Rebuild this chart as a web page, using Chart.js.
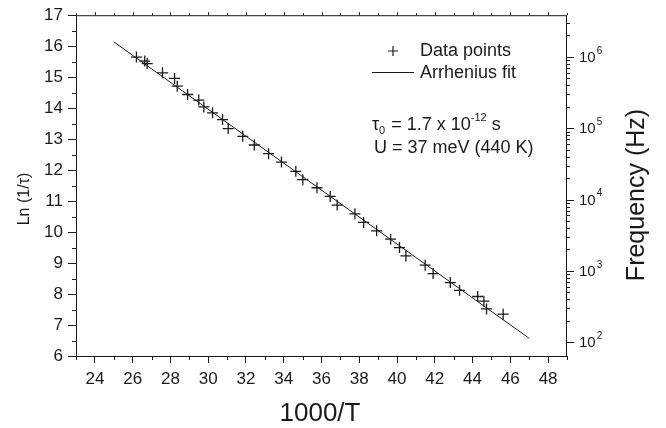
<!DOCTYPE html>
<html>
<head>
<meta charset="utf-8">
<script src="https://cdn.jsdelivr.net/npm/chart.js@4/dist/chart.umd.min.js"></script>
<style>
  html, body { margin: 0; padding: 0; background: #fff; }
  #wrap { width: 666px; height: 428px; }
</style>
</head>
<body>
<div id="wrap"><canvas id="chart" width="666" height="428"></canvas></div>
<script>
// values
const invT = [26.20, 26.64, 26.77, 27.58, 28.22, 28.36, 28.91, 29.50, 29.77, 30.23,
  30.76, 31.06, 31.83, 32.44, 33.20, 33.88, 34.64, 35.01, 35.76, 36.46,
  36.83, 37.77, 38.23, 38.92, 39.66, 40.13, 40.47, 41.49, 41.91, 42.82,
  43.31, 44.27, 44.60, 44.74, 45.62];
const lnRate = [15.65, 15.52, 15.44, 15.14, 14.96, 14.71, 14.44, 14.26, 14.04, 13.85,
  13.63, 13.34, 13.09, 12.81, 12.53, 12.26, 11.96, 11.69, 11.43, 11.15,
  10.87, 10.59, 10.31, 10.04, 9.77, 9.50, 9.23, 8.93, 8.66, 8.37,
  8.12, 7.92, 7.77, 7.52, 7.35];
const fitX = [25, 47];
const fitY = [16.14, 6.57];
const xTicks = [24, 26, 28, 30, 32, 34, 36, 38, 40, 42, 44, 46, 48];
const yTicks = [6, 7, 8, 9, 10, 11, 12, 13, 14, 15, 16, 17];
const freqDecades = [2, 3, 4, 5, 6];

const FONT = "'Liberation Sans', Arial, Helvetica, sans-serif";
const INK = "#1a1a1a";

// ln(1/tau) = ln(2*pi*f)
const lnOfFreq = (f) => Math.log(2 * Math.PI * f);

const points = invT.map((x, i) => ({ x: x, y: lnRate[i] }));
const fitLine = fitX.map((x, i) => ({ x: x, y: fitY[i] }));

// extra axis marks, titles and the annotation block
const decorPlugin = {
  id: "decor",
  afterDraw(chart) {
    const { ctx, chartArea: a, scales } = chart;
    const xs = scales.x, ys = scales.y;
    ctx.save();
    ctx.strokeStyle = INK;
    ctx.fillStyle = INK;
    ctx.lineWidth = 1;

    // frame
    ctx.strokeRect(a.left + 0.5, a.top + 0.5, a.right - a.left - 1, a.bottom - a.top);

    ctx.beginPath();
    // minor ticks left
    for (let v = 6.5; v < 17; v += 1) {
      const y = Math.round(ys.getPixelForValue(v)) + 0.5;
      ctx.moveTo(a.left, y); ctx.lineTo(a.left - 4, y);
    }
    // minor ticks bottom, little ticks on top
    for (let v = 23; v <= 49; v += 1) {
      const x = Math.round(xs.getPixelForValue(v)) + 0.5;
      if (v % 2 === 1) { ctx.moveTo(x, a.bottom); ctx.lineTo(x, a.bottom + 4); }
      ctx.moveTo(x, a.top); ctx.lineTo(x, a.top - (v % 2 === 0 ? 3 : 2));
    }
    // log ticks on the right
    freqDecades.forEach((n) => {
      for (let k = 1; k <= 9; k++) {
        const v = lnOfFreq(k * Math.pow(10, n));
        if (v < 6 || v > 17) continue;
        const y = Math.round(ys.getPixelForValue(v)) + 0.5;
        ctx.moveTo(a.right, y); ctx.lineTo(a.right + (k === 1 ? 7 : 3), y);
      }
    });
    ctx.stroke();

    // right tick labels 10^n
    freqDecades.forEach((n) => {
      const y = ys.getPixelForValue(lnOfFreq(Math.pow(10, n)));
      ctx.font = "15px " + FONT;
      ctx.textAlign = "left";
      ctx.textBaseline = "middle";
      ctx.fillText("10", a.right + 12, y + 1);
      const w = ctx.measureText("10").width;
      ctx.font = "10px " + FONT;
      ctx.fillText(String(n), a.right + 13 + w, y - 6);
    });

    // axis titles
    ctx.textAlign = "center";
    ctx.textBaseline = "middle";
    ctx.font = "26px " + FONT;
    ctx.fillText("1000/T", 320, 414);

    ctx.save();
    ctx.translate(637, 195);
    ctx.rotate(-Math.PI / 2);
    ctx.font = "25px " + FONT;
    ctx.fillText("Frequency (Hz)", 0, 0);
    ctx.restore();

    ctx.save();
    ctx.translate(25, 199);
    ctx.rotate(-Math.PI / 2);
    ctx.font = "16px " + FONT;
    ctx.fillText("Ln (1/\u03C4)", 0, 0);
    ctx.restore();

    // legend
    ctx.lineWidth = 1.2;
    ctx.beginPath();
    ctx.moveTo(388, 51); ctx.lineTo(398, 51);
    ctx.moveTo(393, 46); ctx.lineTo(393, 56);
    ctx.stroke();
    ctx.lineWidth = 1;
    ctx.beginPath();
    ctx.moveTo(372, 72.5); ctx.lineTo(414, 72.5);
    ctx.stroke();

    ctx.textAlign = "left";
    ctx.font = "18px " + FONT;
    ctx.fillText("Data points", 420, 51);
    ctx.fillText("Arrhenius fit", 420, 73);

    // tau_0 = 1.7 x 10^-12 s
    let x = 372;
    const yT = 125;
    ctx.font = "18px " + FONT;
    ctx.fillText("\u03C4", x, yT);
    x += ctx.measureText("\u03C4").width;
    ctx.font = "11px " + FONT;
    ctx.fillText("0", x, yT + 6);
    x += ctx.measureText("0").width + 1;
    ctx.font = "18px " + FONT;
    ctx.fillText(" = 1.7 x 10", x, yT);
    x += ctx.measureText(" = 1.7 x 10").width;
    ctx.font = "11px " + FONT;
    ctx.fillText("-12", x, yT - 7);
    x += ctx.measureText("-12").width;
    ctx.font = "18px " + FONT;
    ctx.fillText(" s", x, yT);

    ctx.fillText("U = 37 meV (440 K)", 374, 148);
    ctx.restore();
  },
};

new Chart(document.getElementById("chart"), {
  type: "scatter",
  data: {
    datasets: [
      {
        label: "Data points",
        data: points,
        pointStyle: "cross",
        pointRadius: 5.5,
        pointBorderWidth: 1.3,
        borderColor: INK,
        backgroundColor: INK,
        showLine: false,
      },
      {
        label: "Arrhenius fit",
        data: fitLine,
        showLine: true,
        pointRadius: 0,
        borderColor: INK,
        borderWidth: 1,
      },
    ],
  },
  options: {
    responsive: false,
    animation: false,
    layout: { padding: { top: 15, left: 0, right: 0, bottom: 0 } },
    plugins: { legend: { display: false }, tooltip: { enabled: false } },
    scales: {
      x: {
        type: "linear",
        min: 23,
        max: 49,
        afterBuildTicks: (s) => { s.ticks = xTicks.map((v) => ({ value: v })); },
        afterFit: (s) => { s.height = 72; },
        grid: { drawOnChartArea: false, tickLength: 7, tickColor: INK, tickWidth: 1 },
        border: { display: false },
        ticks: { color: INK, font: { family: FONT, size: 17 }, padding: 6, maxRotation: 0 },
      },
      y: {
        type: "linear",
        position: "left",
        min: 6,
        max: 17,
        afterBuildTicks: (s) => { s.ticks = yTicks.map((v) => ({ value: v })); },
        afterFit: (s) => { s.width = 76; },
        grid: { drawOnChartArea: false, tickLength: 8, tickColor: INK, tickWidth: 1 },
        border: { display: false },
        ticks: { color: INK, font: { family: FONT, size: 17 }, padding: 5 },
      },
      y2: {
        type: "linear",
        position: "right",
        min: 6,
        max: 17,
        afterFit: (s) => { s.width = 99; },
        grid: { display: false },
        border: { display: false },
        ticks: { display: false },
      },
    },
  },
  plugins: [decorPlugin],
});
</script>
</body>
</html>
